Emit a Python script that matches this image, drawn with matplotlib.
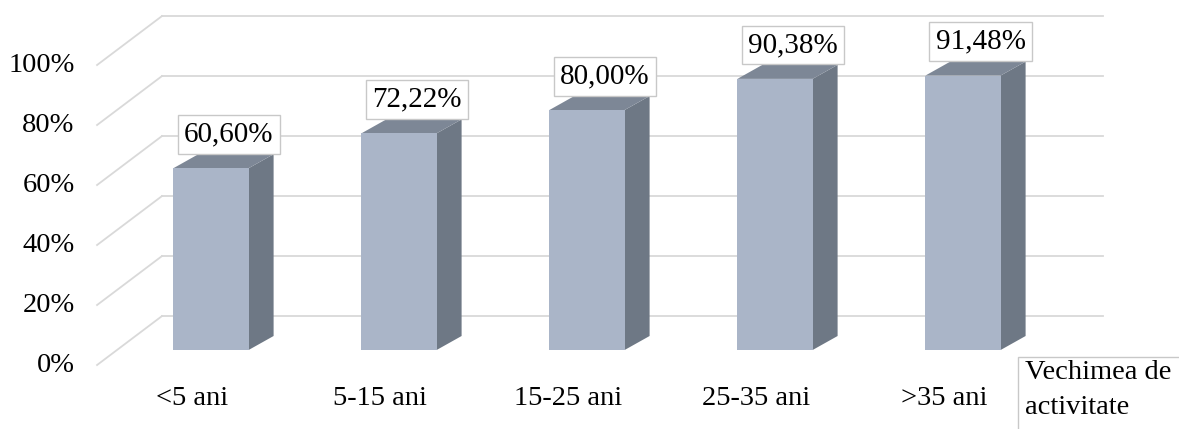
import matplotlib.pyplot as plt
from matplotlib.patches import Polygon, Rectangle

categories = ["<5 ani", "5-15 ani", "15-25 ani", "25-35 ani", ">35 ani"]
values = [60.60, 72.22, 80.00, 90.38, 91.48]
value_labels = ["60,60%", "72,22%", "80,00%", "90,38%", "91,48%"]
yticks = [0, 20, 40, 60, 80, 100]
axis_title = "Vechimea de\nactivitate"

# pseudo 3d geometry (x in category units, y in percent units of the front plane)
half_w = 0.2          # half width of bar front face
bar_base = 5.0        # bar front face sits above the front floor line
side_dx, side_dy = 0.133, 4.67
wall_dx, wall_dy = 0.345, 16.3  # front edge -> back wall
wall_x0 = -0.606
grid_right = 4.745

front_col = "#aab5c8"
side_col = "#6e7885"
top_col = "#7d8796"
grid_col = "#d9d9d9"

plt.rcParams['font.family'] = ['Liberation Serif', 'DejaVu Serif']

fig = plt.figure(figsize=(11.79, 4.29), dpi=100)
ax = fig.add_axes([0, 0, 1, 1])
ax.set_xlim(-211 / 188, (1179 - 211) / 188)
ax.set_ylim(-21.33, 121.67)
ax.axis("off")

# back wall grid + side wall diagonals
for t in yticks:
    ax.plot([wall_x0 + wall_dx, grid_right], [t + wall_dy, t + wall_dy],
            color=grid_col, lw=1.3, zorder=1)
    ax.plot([wall_x0, wall_x0 + wall_dx], [t, t + wall_dy],
            color=grid_col, lw=1.3, zorder=1)
    ax.text(-0.725, t, f"{t}%", ha="right", va="center", fontsize=20.5)

for i, (v, lab) in enumerate(zip(values, value_labels)):
    x0, x1 = i - half_w, i + half_w
    y0, y1 = bar_base, bar_base + v
    ax.add_patch(Polygon([(x1, y0), (x1 + side_dx, y0 + side_dy),
                          (x1 + side_dx, y1 + side_dy), (x1, y1)],
                         closed=True, fc=side_col, ec="none", zorder=3))
    ax.add_patch(Polygon([(x0, y1), (x1, y1), (x1 + side_dx, y1 + side_dy),
                          (x0 + side_dx, y1 + side_dy)],
                         closed=True, fc=top_col, ec="none", zorder=3))
    ax.add_patch(Rectangle((x0, y0), x1 - x0, y1 - y0,
                           fc=front_col, ec="none", zorder=4))
    ax.text(i + 0.095, y1 + side_dy + 2.3, lab, ha="center", va="bottom",
            fontsize=21, zorder=5,
            bbox=dict(boxstyle="square,pad=0.22", fc="white", ec="#c8c8c8", lw=1))
    ax.text(i - 0.1, -11.0, categories[i], ha="center", va="center", fontsize=20.5)

ax.add_patch(Rectangle((4.293, -40), 3, 42.67, fc="white", ec="#c8c8c8",
                       lw=1, zorder=2))
ax.text(4.33, 1.6, axis_title, ha="left", va="top", fontsize=20.5,
        linespacing=1.5, zorder=3)

fig.savefig("out.png", dpi=100)
